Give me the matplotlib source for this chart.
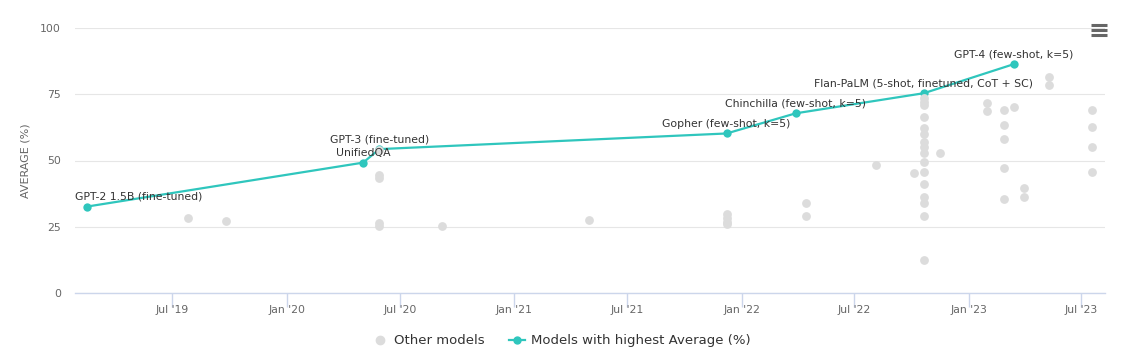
#%% Imports
import numpy as np
import pandas as pd
import matplotlib
matplotlib.use('Agg')
import matplotlib.pyplot as plt
import matplotlib.dates as mdates
from matplotlib.lines import Line2D

#%% Data
best_names = ['GPT-2 1.5B (fine-tuned)', 'UnifiedQA', 'GPT-3 (fine-tuned)',
              'Gopher (few-shot, k=5)', 'Chinchilla (few-shot, k=5)',
              'Flan-PaLM (5-shot, finetuned, CoT + SC)', 'GPT-4 (few-shot, k=5)']
best_dates = ['2019-02-14', '2020-05-03', '2020-05-29', '2021-12-08',
              '2022-03-29', '2022-10-21', '2023-03-15']
best_scores = [32.6, 49.2, 54.3, 60.2, 67.8, 75.4, 86.4]

other_dates = (['2019-07-26', '2019-09-26']
               + ['2020-05-29'] * 5
               + ['2020-09-06', '2021-05-01']
               + ['2021-12-08'] * 4
               + ['2022-04-14'] * 2
               + ['2022-08-05', '2022-10-05']
               + ['2022-10-21'] * 16
               + ['2022-11-16']
               + ['2023-01-31'] * 2
               + ['2023-02-27'] * 5
               + ['2023-03-15']
               + ['2023-03-31'] * 2
               + ['2023-05-10'] * 2
               + ['2023-07-18'] * 4)
other_scores = ([28.2, 27.3]
                + [54.1, 44.5, 43.4, 26.6, 25.3]
                + [25.3, 27.5]
                + [29.8, 28.3, 26.9, 26.0]
                + [33.8, 29.1]
                + [48.2, 45.2]
                + [73.5, 72.2, 70.9, 66.5, 62.1, 60.0, 57.1, 55.2, 52.9, 49.5,
                   45.8, 41.0, 36.3, 34.1, 29.1, 12.5]
                + [53.0]
                + [71.8, 68.6]
                + [69.1, 63.5, 58.0, 47.2, 35.6]
                + [70.2]
                + [39.6, 36.3]
                + [81.6, 78.6]
                + [69.1, 62.8, 55.1, 45.5])

tick_dates = ['2019-07-01', '2020-01-01', '2020-07-01', '2021-01-01', '2021-07-01',
              '2022-01-01', '2022-07-01', '2023-01-01', '2023-07-01']
tick_labels = ["Jul '19", "Jan '20", "Jul '20", "Jan '21", "Jul '21",
               "Jan '22", "Jul '22", "Jan '23", "Jul '23"]

TEAL = '#2fc6bd'
GRAY = '#dcdcdc'
TEXT = '#333333'
AXIS = '#666666'

#%% Figure
fig = plt.figure(figsize=(11.34, 3.54), dpi=100)
ax = fig.add_axes([75/1134, 1 - 293/354, 1030/1134, 265/354])

bd = pd.to_datetime(best_dates)
od = pd.to_datetime(other_dates)

ax.plot(bd, best_scores, '-', color=TEAL, lw=1.6, zorder=3)
ax.scatter(bd, best_scores, s=36, color=TEAL, zorder=4, linewidths=0)
ax.scatter(od, other_scores, s=40, color=GRAY, zorder=5, linewidths=0)

# data labels above the highlighted points
for i, (name, d, v) in enumerate(zip(best_names, bd, best_scores)):
    if i == 0:
        ax.annotate(name, (d, v), xytext=(-12, 10), textcoords='offset pixels',
                    ha='left', va='center', fontsize=7.8, color=TEXT, zorder=6)
    else:
        ax.annotate(name, (d, v), xytext=(0, 9.5), textcoords='offset pixels',
                    ha='center', va='center', fontsize=7.8, color=TEXT, zorder=6)

# axes formatting
ax.set_xlim(pd.Timestamp('2019-01-26'), pd.Timestamp('2023-08-08'))
ax.set_ylim(0, 100)
ax.set_yticks([0, 25, 50, 75, 100])
ax.set_xticks(pd.to_datetime(tick_dates))
ax.set_xticklabels(tick_labels)
ax.tick_params(axis='x', length=10, width=1, color='#ccd6eb', labelsize=7.8,
               labelcolor=AXIS, pad=-1.5)
ax.tick_params(axis='y', length=0, labelsize=7.8, labelcolor=AXIS, pad=10)
ax.grid(axis='y', color='#e6e6e6', lw=0.8)
ax.set_axisbelow(True)
for s in ['top', 'right', 'left']:
    ax.spines[s].set_visible(False)
ax.spines['bottom'].set_color('#ccd6eb')
ax.spines['bottom'].set_linewidth(1)
ax.set_ylabel('AVERAGE (%)', fontsize=8, color=AXIS, labelpad=7)

# legend
handles = [Line2D([], [], ls='none', marker='o', color=GRAY, markersize=6),
           Line2D([], [], ls='-', lw=1.6, marker='o', color=TEAL, markersize=5)]
fig.legend(handles, ['Other models', 'Models with highest Average (%)'],
           loc='center', bbox_to_anchor=(0.495, 1 - 340.7/354), ncol=2,
           frameon=False, fontsize=9.5, labelcolor=TEXT, handlelength=1.2,
           handletextpad=0.5, columnspacing=1.8)

# hamburger menu icon
for yy in [24.5, 29.5, 34.5]:
    fig.add_artist(Line2D([1091/1134, 1107/1134], [1 - yy/354] * 2, color='#666666',
                          lw=2.2, solid_capstyle='butt'))

fig.savefig('out.png', dpi=100)
